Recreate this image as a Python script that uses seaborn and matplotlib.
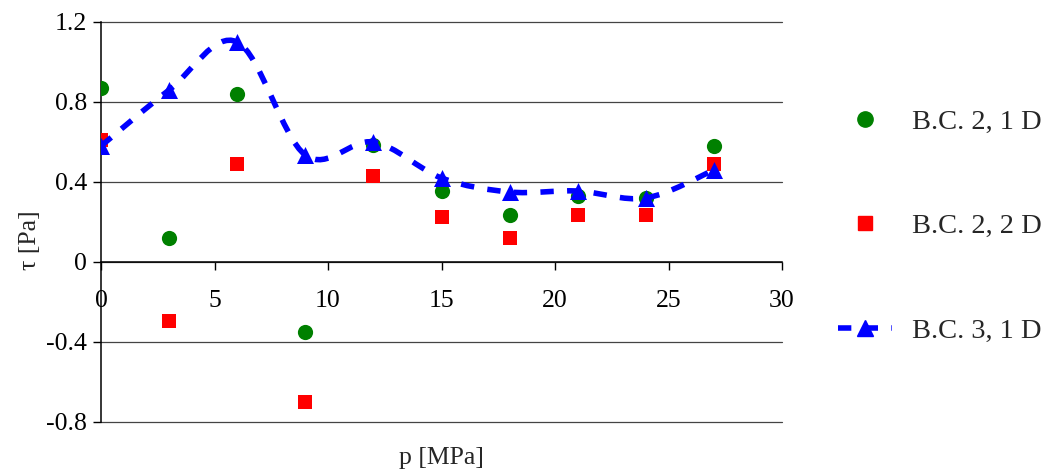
import numpy as np
import matplotlib
matplotlib.use("Agg")
import matplotlib.pyplot as plt
from matplotlib.path import Path
from matplotlib.patches import PathPatch
from matplotlib.lines import Line2D
import seaborn as sns

# values
p = [0, 3, 6, 9, 12, 15, 18, 21, 24, 27]
bc2_1d = [0.868, 0.12, 0.84, -0.35, 0.585, 0.357, 0.235, 0.33, 0.32, 0.58]
bc2_2d = [0.61, -0.295, 0.49, -0.70, 0.43, 0.227, 0.118, 0.235, 0.235, 0.49]
bc3_1d = [0.58, 0.86, 1.10, 0.535, 0.60, 0.42, 0.35, 0.355, 0.32, 0.46]
labels = ["B.C. 2, 1 D", "B.C. 2, 2 D", "B.C. 3, 1 D"]

sns.set_style("white")
plt.rcParams["font.family"] = ["Liberation Serif", "DejaVu Serif"]

fig = plt.figure(figsize=(10.47, 4.71), dpi=100)
ax = fig.add_axes([101 / 1047, 1 - 422 / 471, (782 - 101) / 1047, 400 / 471])

sns.scatterplot(x=p, y=bc2_1d, ax=ax, color="#008000", marker="o", s=120,
                linewidth=0, zorder=3)
sns.scatterplot(x=p, y=bc2_2d, ax=ax, color="#ff0000", marker="s", s=105,
                linewidth=0, zorder=4)


# smoothed line like the spreadsheet one (cubic bezier through the points)
def smooth_path(xs, ys):
    pts = np.column_stack([xs, ys]).astype(float)
    ext = np.vstack([pts[0], pts, pts[-1]])
    verts = [pts[0]]
    codes = [Path.MOVETO]
    for i in range(len(pts) - 1):
        p0, p1, p2, p3 = ext[i], ext[i + 1], ext[i + 2], ext[i + 3]
        verts += [p1 + (p2 - p0) / 6, p2 - (p3 - p1) / 6, p2]
        codes += [Path.CURVE4] * 3
    return Path(verts, codes)


curve = PathPatch(smooth_path(p, bc3_1d), fill=False, edgecolor="#0000ff",
                  linewidth=4, linestyle=(0, (2.4, 2.4)), capstyle="butt",
                  zorder=5)
ax.add_patch(curve)
sns.scatterplot(x=p, y=bc3_1d, ax=ax, color="#0000ff", marker="^", s=150,
                linewidth=0, zorder=6)

ax.set_xlim(0, 30)
ax.set_ylim(-0.8, 1.2)
ax.set_xticks(range(0, 31, 5))
ax.set_yticks([-0.8, -0.4, 0, 0.4, 0.8, 1.2])
ax.set_yticklabels(["-0.8", "-0.4", "0", "0.4", "0.8", "1.2"])
ax.yaxis.grid(True, color="#444444", linewidth=0.9)
ax.xaxis.grid(False)
for gl in ax.get_ygridlines():
    gl.set_clip_on(False)

for s in ["top", "right"]:
    ax.spines[s].set_visible(False)
ax.spines["bottom"].set_position(("data", 0))
ax.spines["bottom"].set_color("black")
ax.spines["left"].set_color("black")
ax.spines["bottom"].set_linewidth(1.1)
ax.spines["left"].set_linewidth(1.1)

ax.tick_params(axis="x", direction="out", length=6, width=1, colors="black",
               pad=14, labelsize=18.5, bottom=True)
ax.tick_params(axis="y", direction="out", length=6, width=1, colors="black",
               pad=4, labelsize=18.5, left=True)

fig.text(30 / 1047, 1 - 240 / 471, "τ [Pa]", rotation=90, ha="center",
         va="center", fontsize=18.5)
fig.text(441 / 1047, 1 - 458 / 471, "p [MPa]", ha="center", va="center",
         fontsize=18.5)

handles = [
    Line2D([], [], color="#008000", marker="o", linestyle="none", markersize=11),
    Line2D([], [], color="#ff0000", marker="s", linestyle="none", markersize=10),
    Line2D([], [], color="#0000ff", marker="^", markersize=12, linewidth=4,
           linestyle=(0, (2.4, 2.4)), dash_capstyle="butt"),
]
fig.legend(handles, labels, loc="upper left",
           bbox_to_anchor=(812 / 1047, 1 - 83 / 471), frameon=False,
           fontsize=20.5, labelspacing=2.76, handlelength=1.9,
           handletextpad=0.7)

fig.savefig("out.png", dpi=100)
